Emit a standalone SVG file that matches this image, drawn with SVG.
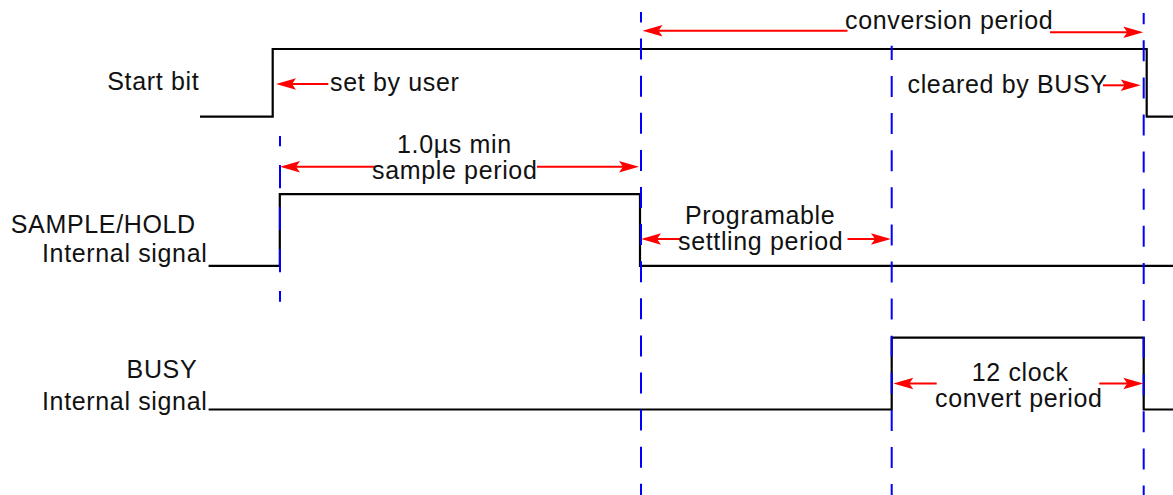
<svg xmlns="http://www.w3.org/2000/svg" width="1173" height="495" viewBox="0 0 1173 495">
  <style>
    text { font-family: "Liberation Sans", Arial, Helvetica, sans-serif; font-size: 25px; letter-spacing: 0.65px; fill: #111; }
    .sig { fill: none; stroke: #000; stroke-width: 2.2; stroke-linejoin: miter; }
    .guide { fill: none; stroke: #0000ff; stroke-width: 2; }
    .g37 { stroke-dasharray: 21 16.1; }
    .g42 { stroke-dasharray: 23.3 18.7; }
    .dim { fill: none; stroke: #ff0000; stroke-width: 2; marker-end: url(#arr); }
  </style>
  <defs>
    <marker id="arr" viewBox="-11 -7 22 14" refX="0" refY="0" markerWidth="22" markerHeight="14" markerUnits="userSpaceOnUse" orient="auto">
      <path d="M10,0 L-10,-5.8 L-6,0 L-10,5.8 Z" fill="#ff0000"/>
    </marker>
  </defs>
  <rect width="1173" height="495" fill="#ffffff"/>

  <g id="sig-start">
    <text x="107.3" y="90">Start bit</text>
    <polyline class="sig" points="200,116.7 272.7,116.7 272.7,49 1146.7,49 1146.7,116.7 1173,116.7"/>
  </g>
  <g id="sig-samplehold">
    <text x="10.8" y="233.3">SAMPLE/HOLD</text>
    <text x="42" y="262">Internal signal</text>
    <polyline class="sig" points="208.6,265.8 279.8,265.8 279.8,194.2 640,194.2 640,265.8 1173,265.8"/>
  </g>
  <g id="sig-busy">
    <text x="126.6" y="377.7">BUSY</text>
    <text x="42" y="409.5">Internal signal</text>
    <polyline class="sig" points="208.6,409.5 891.7,409.5 891.7,337.7 1143.7,337.7 1143.7,409.5 1173,409.5"/>
  </g>

  <g id="guides">
    <line class="guide g42" x1="280" y1="136" x2="280" y2="301.7" stroke-dashoffset="13"/>
    <line class="guide g37" x1="641" y1="12" x2="641" y2="495" stroke-dashoffset="10.5"/>
    <line class="guide g37" x1="891.7" y1="45.7" x2="891.7" y2="495" stroke-dashoffset="6.8"/>
    <line class="guide g37" x1="1143.7" y1="13" x2="1143.7" y2="495" stroke-dashoffset="9.8"/>
  </g>

  <g id="connectors">
    <line class="dim" x1="328.3" y1="84" x2="286" y2="84"/>
    <line class="dim" x1="375" y1="166.7" x2="290" y2="166.7"/>
    <line class="dim" x1="537" y1="166.7" x2="629" y2="166.7"/>
    <line class="dim" x1="847.5" y1="30.7" x2="652.5" y2="30.7"/>
    <line class="dim" x1="1050" y1="32.3" x2="1133.3" y2="32.3"/>
    <line class="dim" x1="1103" y1="85.3" x2="1130.7" y2="85.3"/>
    <line class="dim" x1="681.7" y1="239" x2="651" y2="239"/>
    <line class="dim" x1="847.5" y1="239" x2="881" y2="239"/>
    <line class="dim" x1="936.7" y1="383.5" x2="903.3" y2="383.5"/>
    <line class="dim" x1="1099.3" y1="383.5" x2="1133.3" y2="383.5"/>
  </g>

  <g id="labels">
    <text x="330" y="91">set by user</text>
    <text x="397" y="152.7">1.0µs min</text>
    <text x="372" y="179">sample period</text>
    <text x="845" y="29.3">conversion period</text>
    <text x="907.5" y="93.3">cleared by BUSY</text>
    <text x="685" y="224.3">Programable</text>
    <text x="678" y="250">settling period</text>
    <text x="971.7" y="381">12 clock</text>
    <text x="935" y="407.3">convert period</text>
  </g>
</svg>
